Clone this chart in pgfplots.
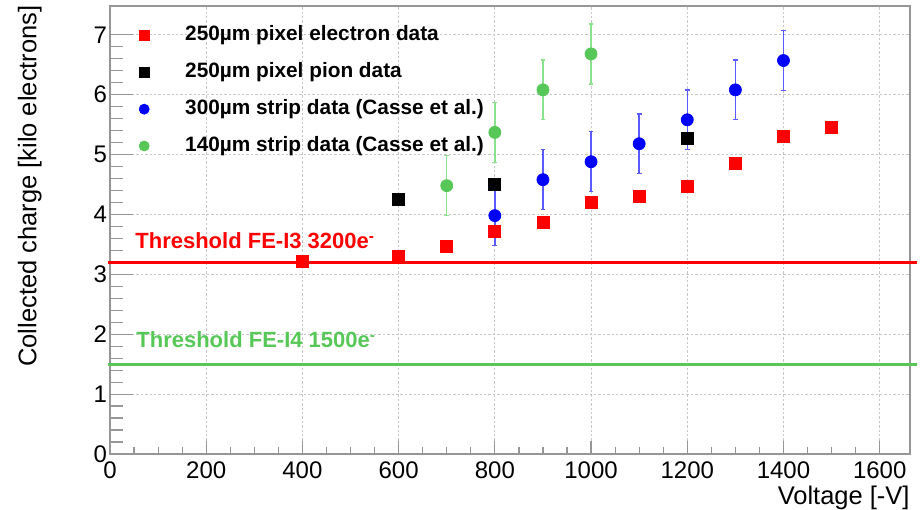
\documentclass[border=0pt]{standalone}
\usepackage{fontspec}
\setmainfont{Liberation Sans}
\usepackage{pgfplots}
\pgfplotsset{compat=1.18}
\definecolor{rootgreen}{RGB}{87,200,87}
\definecolor{errgreen}{RGB}{140,225,140}
\definecolor{errblue}{RGB}{90,90,255}
\definecolor{axgray}{RGB}{150,150,150}

\begin{document}
\begin{tikzpicture}
\begin{axis}[
    scale only axis,
    width=400bp, height=224bp,
    xmin=0, xmax=1663, ymin=0, ymax=7.48,
    xtick={0,200,...,1600}, ytick={0,1,...,7},
    minor x tick num=3, minor y tick num=4,
    tick align=inside, xtick pos=bottom, ytick pos=left,
    xtick style={/pgfplots/major tick length=6.5bp, /pgfplots/minor tick length=3.5bp},
    ytick style={/pgfplots/major tick length=11.5bp, /pgfplots/minor tick length=6.3bp},
    every tick/.style={axgray, line width=0.6bp},
    axis line style={axgray, line width=0.9bp},
    grid=major, grid style={gray!45, line width=0.4bp, dash pattern=on 1.2bp off 1bp},
    /pgf/number format/assume math mode=true,
    /pgf/number format/set thousands separator={},
    ticklabel style={font=\fontsize{12bp}{14bp}\selectfont},
    xticklabel style={yshift=-0.5bp},
    yticklabel style={xshift=2bp},
    clip=false,
    legend style={draw=none, fill=none, at={(rel axis cs:0.036,0.957)}, anchor=north west,
        inner sep=0pt, row sep=8.5bp, column sep=18bp,
        font=\fontsize{10.4bp}{12bp}\selectfont\bfseries,
        nodes={inner sep=0pt, text height=7.5bp, text depth=2.4bp}},
    legend cell align=left,
    legend image code/.code={\draw[#1, mark size=2.5bp] plot coordinates {(0bp,0bp)};},
]
% thresholds
\addplot[red, line width=1.6bp, forget plot] coordinates {(-5,3.2) (1678,3.2)};
\addplot[rootgreen, line width=1.6bp, forget plot] coordinates {(-5,1.5) (1678,1.5)};

% 250um pixel electron data
\addplot[only marks, mark=square*, mark size=3bp, mark options={fill=red, draw=red}]
coordinates {
    (400,3.21) (600,3.30) (700,3.47) (800,3.72) (900,3.87) (1000,4.20)
    (1100,4.30) (1200,4.47) (1300,4.86) (1400,5.31) (1500,5.45)
};
\addlegendentry{250µm pixel electron data}

% 250um pixel pion data
\addplot[only marks, mark=square*, mark size=3bp, mark options={fill=black, draw=black}]
coordinates {(600,4.25) (800,4.50) (1200,5.27)};
\addlegendentry{250µm pixel pion data}

% 300um strip data
\addplot[only marks, mark=*, mark size=3bp, mark options={fill=blue, draw=blue},
    error bars/.cd, y dir=both, y explicit,
    error bar style={color=errblue, line width=0.7bp},
    error mark options={rotate=90, mark size=1.2bp, color=errblue, line width=0.7bp}]
coordinates {
    (800,3.98) +- (0,0.5)
    (900,4.58) +- (0,0.5)
    (1000,4.88) +- (0,0.5)
    (1100,5.18) +- (0,0.5)
    (1200,5.58) +- (0,0.5)
    (1300,6.08) +- (0,0.5)
    (1400,6.57) +- (0,0.5)
};
\addlegendentry{300µm strip data (Casse et al.)}

% 140um strip data
\addplot[only marks, mark=*, mark size=3bp, mark options={fill=rootgreen, draw=rootgreen},
    error bars/.cd, y dir=both, y explicit,
    error bar style={color=errgreen, line width=0.7bp},
    error mark options={rotate=90, mark size=1.2bp, color=errgreen, line width=0.7bp}]
coordinates {
    (700,4.48) +- (0,0.5)
    (800,5.37) +- (0,0.5)
    (900,6.08) +- (0,0.5)
    (1000,6.68) +- (0,0.5)
};
\addlegendentry{140µm strip data (Casse et al.)}
\end{axis}

\node[rotate=90, anchor=south east, inner sep=0pt, font=\fontsize{12.75bp}{15bp}\selectfont]
    at (-34bp,224.5bp) {Collected charge [kilo electrons]};
\node[anchor=base east, inner sep=0pt, font=\fontsize{12.75bp}{15bp}\selectfont]
    at (400bp,-25bp) {Voltage [-V]};
\node[anchor=base west, inner sep=0pt, text=red, font=\fontsize{11bp}{13bp}\selectfont\bfseries]
    at (12.5bp,102.5bp) {Threshold FE-I3 3200e\textsuperscript{-}};
\node[anchor=base west, inner sep=0pt, text=rootgreen, font=\fontsize{11bp}{13bp}\selectfont\bfseries]
    at (13bp,53bp) {Threshold FE-I4 1500e\textsuperscript{-}};

\pgfresetboundingbox
\path[use as bounding box] (-55bp,-28bp) rectangle (406bp,227bp);
\end{tikzpicture}
\end{document}
